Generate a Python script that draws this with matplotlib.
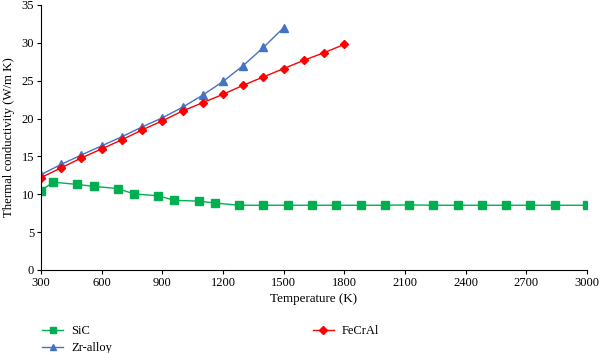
import matplotlib
matplotlib.use("Agg")
import matplotlib.pyplot as plt

plt.rcParams['font.family'] = 'serif'
plt.rcParams['font.serif'] = ['Liberation Serif']

sic_t = [300, 360, 480, 560, 680, 760, 880, 960, 1080, 1160, 1280, 1400, 1520,
         1640, 1760, 1880, 2000, 2120, 2240, 2360, 2480, 2600, 2720, 2840, 3000]
sic_k = [10.5, 11.6, 11.3, 11.05, 10.75, 10.05, 9.8, 9.2, 9.1, 8.85, 8.55, 8.55, 8.55,
         8.55, 8.55, 8.55, 8.55, 8.6, 8.55, 8.55, 8.55, 8.55, 8.55, 8.55, 8.55]

zr_t = [300, 400, 500, 600, 700, 800, 900, 1000, 1100, 1200, 1300, 1400, 1500]
zr_k = [12.6, 13.95, 15.2, 16.4, 17.6, 18.9, 20.1, 21.5, 23.1, 24.9, 27.0, 29.4, 32.0]

fe_t = [300, 400, 500, 600, 700, 800, 900, 1000, 1100, 1200, 1300, 1400, 1500, 1600, 1700, 1800]
fe_k = [12.2, 13.5, 14.8, 16.0, 17.2, 18.5, 19.7, 21.0, 22.1, 23.2, 24.4, 25.5, 26.6, 27.7, 28.7, 29.8]

xticks = list(range(300, 3001, 300))
yticks = list(range(0, 36, 5))

fig = plt.figure(figsize=(6.0, 3.53), dpi=100)
ax = fig.add_axes([41/600, 1-270/353, (587-41)/600, (270-5)/353])

l1, = ax.plot(sic_t, sic_k, color='#00B050', marker='s', markersize=6, lw=1.0, label='SiC')
l2, = ax.plot(zr_t, zr_k, color='#4472C4', marker='^', markersize=6, lw=1.0, label='Zr-alloy')
l3, = ax.plot(fe_t, fe_k, color='#FF0000', marker='D', markersize=4.5, lw=1.0, label='FeCrAl')

ax.set_xlim(300, 3000)
ax.set_ylim(0, 35)
ax.set_xticks(xticks)
ax.set_yticks(yticks)
ax.tick_params(labelsize=9, direction='out', length=3, width=0.8, pad=2)
for s in ['top', 'right']:
    ax.spines[s].set_visible(False)
ax.set_xlabel('Temperature (K)', fontsize=9.4, labelpad=3)
ax.set_ylabel('Thermal conductivity (W/m K)', fontsize=9.2, labelpad=5)

fig.legend(handles=[l1, l2, l3], loc='upper left', bbox_to_anchor=(37/600, 1-320/353),
           ncol=2, frameon=False, fontsize=9, columnspacing=16.05, handlelength=1.68,
           handletextpad=0.64, labelspacing=0.4, markerscale=0.8, borderaxespad=0)

fig.savefig('out.png', dpi=100)
